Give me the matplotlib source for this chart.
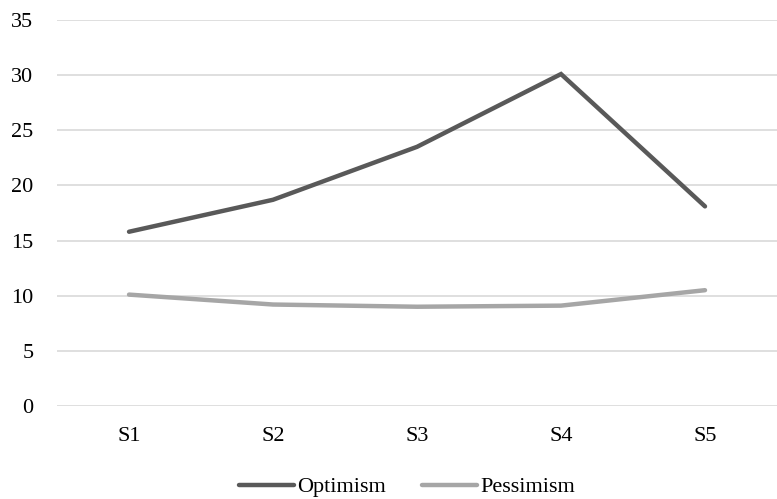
import matplotlib
matplotlib.use("Agg")
import matplotlib.pyplot as plt
import numpy as np

categories = ["S1", "S2", "S3", "S4", "S5"]
optimism = [15.8, 18.7, 23.5, 30.1, 18.1]
pessimism = [10.1, 9.2, 9.0, 9.1, 10.5]
y_ticks = [0, 5, 10, 15, 20, 25, 30, 35]

plt.rcParams['font.family'] = ['Liberation Serif', 'DejaVu Serif']

fig = plt.figure(figsize=(7.77, 4.99), dpi=100)
ax = fig.add_axes([0.0734, 0.1864, 0.9266, 0.7735])

x = np.arange(len(categories))
ax.plot(x, optimism, color='#595959', lw=3.2, solid_capstyle='round',
        solid_joinstyle='miter', label='Optimism')
ax.plot(x, pessimism, color='#A6A6A6', lw=3.2, solid_capstyle='round',
        solid_joinstyle='miter', label='Pessimism')

ax.set_xlim(-0.5, 4.5)
ax.set_ylim(0, 35)
ax.set_yticks(y_ticks)
ax.set_xticks(x)
ax.set_xticklabels(categories)
ax.tick_params(axis='both', length=0, labelsize=16, colors='black')
ax.tick_params(axis='y', pad=17)
ax.tick_params(axis='x', pad=15)
ax.grid(axis='y', color='#D9D9D9', lw=1.2)
ax.set_axisbelow(True)
for s in ax.spines.values():
    s.set_visible(False)

leg = fig.legend(loc='center', bbox_to_anchor=(0.524, 0.024), ncol=2,
                 frameon=False, fontsize=16, handlelength=2.5,
                 handletextpad=0.15, columnspacing=1.6)

fig.savefig("out.png", dpi=100)
